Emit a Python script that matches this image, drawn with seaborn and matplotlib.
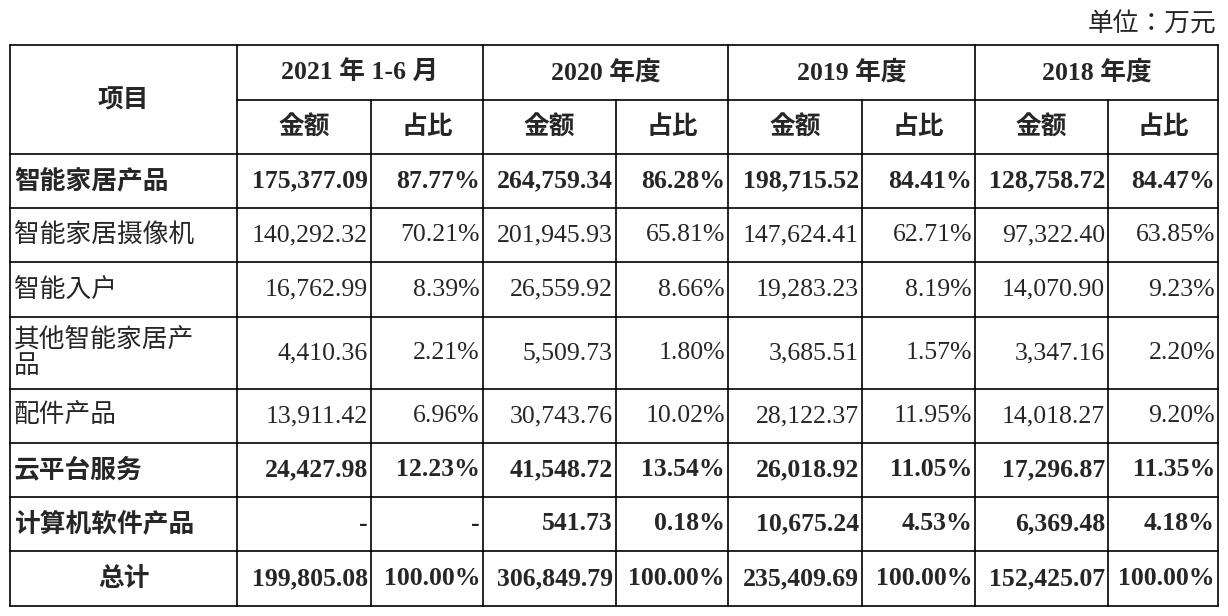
import matplotlib
matplotlib.use("Agg")
import matplotlib.pyplot as plt
from matplotlib import font_manager as fm
import seaborn as sns

sns.set_theme(style="white")

periods = ["2021 年 1-6 月", "2020 年度", "2019 年度", "2018 年度"]
row_labels = ["智能家居产品", "智能家居摄像机", "智能入户", "其他智能家居产\n品", "配件产品",
              "云平台服务", "计算机软件产品", "总计"]
bold_rows = [True, False, False, False, False, True, True, True]
amounts = [
    ["175,377.09", "264,759.34", "198,715.52", "128,758.72"],
    ["140,292.32", "201,945.93", "147,624.41", "97,322.40"],
    ["16,762.99", "26,559.92", "19,283.23", "14,070.90"],
    ["4,410.36", "5,509.73", "3,685.51", "3,347.16"],
    ["13,911.42", "30,743.76", "28,122.37", "14,018.27"],
    ["24,427.98", "41,548.72", "26,018.92", "17,296.87"],
    ["-", "541.73", "10,675.24", "6,369.48"],
    ["199,805.08", "306,849.79", "235,409.69", "152,425.07"],
]
shares = [
    ["87.77%", "86.28%", "84.41%", "84.47%"],
    ["70.21%", "65.81%", "62.71%", "63.85%"],
    ["8.39%", "8.66%", "8.19%", "9.23%"],
    ["2.21%", "1.80%", "1.57%", "2.20%"],
    ["6.96%", "10.02%", "11.95%", "9.20%"],
    ["12.23%", "13.54%", "11.05%", "11.35%"],
    ["-", "0.18%", "4.53%", "4.18%"],
    ["100.00%", "100.00%", "100.00%", "100.00%"],
]

# locate an installed CJK font by its real registered name
CJK = None
for pref in ["Noto Serif CJK SC", "Noto Sans CJK SC", "Noto Sans CJK JP"]:
    if any(f.name == pref for f in fm.fontManager.ttflist):
        CJK = pref
        break
if CJK is None:
    for f in fm.fontManager.ttflist:
        if "CJK" in f.name or "CJK" in f.fname:
            CJK = f.name
            break
if CJK is None:
    import glob
    for p in glob.glob("/usr/share/fonts/**/*CJK*", recursive=True):
        try:
            fm.fontManager.addfont(p)
            CJK = fm.FontProperties(fname=p).get_name()
            break
        except Exception:
            pass
SER = "Liberation Serif"
FS = 18.5

cols = [10, 237, 371, 483, 616, 728, 862, 975, 1108, 1218]
rows = [45, 154, 208, 262, 317, 389, 443, 497, 551, 606]
hsplit = 100

fig = plt.figure(figsize=(12.28, 6.16), dpi=100)
ax = fig.add_axes([0, 0, 1, 1])
ax.set_xlim(0, 1228)
ax.set_ylim(616, 0)
ax.axis("off")

lw = 1.2
for x in cols:
    y0 = rows[0] if x in (cols[0], cols[1], cols[3], cols[5], cols[7], cols[9]) else hsplit
    ax.plot([x, x], [y0, rows[-1]], color="black", lw=lw)
for y in rows:
    ax.plot([cols[0], cols[-1]], [y, y], color="black", lw=lw)
ax.plot([cols[1], cols[-1]], [hsplit, hsplit], color="black", lw=lw)

ax.text(1216, 25, "单位：万元", ha="right", va="center", fontsize=FS, family=CJK)
ax.text((cols[0] + cols[1]) / 2, (rows[0] + rows[1]) / 2, "项目", ha="center", va="center",
        fontsize=FS, family=CJK, weight="bold")
for i, p in enumerate(periods):
    xa, xb = cols[1 + 2 * i], cols[3 + 2 * i]
    ax.text((xa + xb) / 2, (rows[0] + hsplit) / 2, p, ha="center", va="center",
            fontsize=FS, family=[SER, CJK], weight="bold")
    ax.text((cols[1 + 2 * i] + cols[2 + 2 * i]) / 2, (hsplit + rows[1]) / 2, "金额",
            ha="center", va="center", fontsize=FS, family=CJK, weight="bold")
    ax.text((cols[2 + 2 * i] + cols[3 + 2 * i]) / 2, (hsplit + rows[1]) / 2, "占比",
            ha="center", va="center", fontsize=FS, family=CJK, weight="bold")

for r, lab in enumerate(row_labels):
    yc = (rows[r + 1] + rows[r + 2]) / 2
    wt = "bold" if bold_rows[r] else "normal"
    if lab == "总计":
        ax.text((cols[0] + cols[1]) / 2, yc, lab, ha="center", va="center", fontsize=FS,
                family=CJK, weight=wt)
    else:
        ax.text(14, yc, lab, ha="left", va="center", fontsize=FS, family=CJK, weight=wt,
                linespacing=1.0)
    for i in range(4):
        ax.text(cols[2 + 2 * i] - 3, yc, amounts[r][i], ha="right", va="center",
                fontsize=FS, family=SER, weight=wt)
        ax.text(cols[3 + 2 * i] - 3, yc, shares[r][i], ha="right", va="center",
                fontsize=FS, family=SER, weight=wt)

fig.savefig("out.png", dpi=100, facecolor="white")
